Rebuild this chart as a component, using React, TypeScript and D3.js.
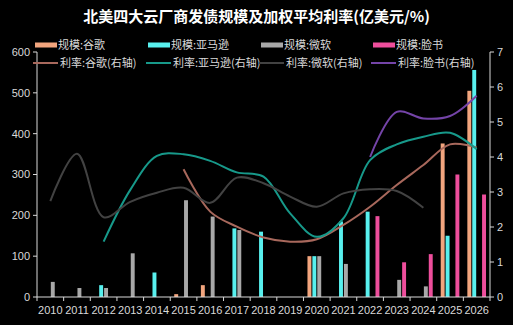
import { useEffect, useRef } from 'react';
import * as d3 from 'd3';

const years = ['2010', '2011', '2012', '2013', '2014', '2015', '2016', '2017', '2018',
  '2019', '2020', '2021', '2022', '2023', '2024', '2025', '2026'];

// 规模 (亿美元), null = no issue that year
const googleSize = [null, null, null, null, null, 7, 29, null, null, null, 100, null, null, null, null, 376, 505];
const amazonSize = [null, null, 29, null, 60, null, null, 168, 160, null, 100, 185, 209, null, null, 150, 556];
const msftSize = [37, 22, 22, 107, null, 237, 197, 164, null, null, 100, 81, null, 42, 26, null, null];
const fbSize = [null, null, null, null, null, null, null, null, null, null, null, null, 198, 85, 105, 300, 251];

// 利率 (%), right axis
const googleRate = [null, null, null, null, null, 3.65, 2.44, 2.01, 1.7, 1.58, 1.65, 2.06, 2.58, 3.2, 3.77, 4.36, 4.27];
const amazonRate = [null, null, 1.58, 3.06, 4.03, 4.08, 3.89, 3.56, 3.44, 2.39, 1.72, 2.25, 3.91, 4.36, 4.58, 4.69, 4.22];
const msftRate = [2.74, 4.09, 2.28, 2.72, 2.98, 3.12, 2.69, 3.41, 3.25, 2.87, 2.58, 2.96, 3.08, 3.03, 2.55, null, null];
const fbRate = [null, null, null, null, null, null, null, null, null, null, null, null, 4.0, 5.29, 5.1, 5.17, 5.75];

const leftTicks = [0, 100, 200, 300, 400, 500, 600];
const rightTicks = [0, 1, 2, 3, 4, 5, 6, 7];

const barSeries = [
  { name: '规模:谷歌', values: googleSize, color: '#F2A57E' },
  { name: '规模:亚马逊', values: amazonSize, color: '#58F0EE' },
  { name: '规模:微软', values: msftSize, color: '#A8A8A8' },
  { name: '规模:脸书', values: fbSize, color: '#EE4E9C' },
];
const lineSeries = [
  { name: '利率:谷歌(右轴)', values: googleRate, color: '#A8685C' },
  { name: '利率:亚马逊(右轴)', values: amazonRate, color: '#17998A' },
  { name: '利率:微软(右轴)', values: msftRate, color: '#424242' },
  { name: '利率:脸书(右轴)', values: fbRate, color: '#7444A8' },
];

const W = 513;
const H = 325;
const axisColor = '#D9D9D9';

const App = () => {
  const svgRef = useRef<SVGSVGElement>(null);

  useEffect(() => {
    const svg = d3.select(svgRef.current);
    svg.selectAll('*').remove();

    const left = 37;
    const right = 490;
    const top = 52;
    const bottom = 297;

    svg.append('rect').attr('width', W).attr('height', H).attr('fill', '#000');

    const x = d3.scaleBand<string>().domain(years).range([left, right])
      .paddingInner(0.3).paddingOuter(0.15);
    const inner = d3.scaleBand<string>().domain(barSeries.map((s) => s.name))
      .range([0, x.bandwidth()]).paddingInner(0.2);
    const yL = d3.scaleLinear().domain([0, 600]).range([bottom, top]);
    const yR = d3.scaleLinear().domain([0, 7]).range([bottom, top]);

    // title
    svg.append('text')
      .attr('x', W / 2).attr('y', 22)
      .attr('text-anchor', 'middle')
      .attr('fill', '#fff')
      .style('font-family', '"Noto Sans CJK SC", sans-serif')
      .style('font-size', '15px')
      .style('font-weight', 'bold')
      .text('北美四大云厂商发债规模及加权平均利率(亿美元/%)');

    // bars
    barSeries.forEach((s) => {
      svg.append('g')
        .selectAll('rect')
        .data(years.map((yr, i) => ({ yr, v: s.values[i] })).filter((d) => d.v != null))
        .enter()
        .append('rect')
        .attr('x', (d) => (x(d.yr) as number) + (inner(s.name) as number))
        .attr('width', inner.bandwidth())
        .attr('y', (d) => yL(d.v as number))
        .attr('height', (d) => bottom - yL(d.v as number))
        .attr('fill', s.color);
    });

    // lines
    const cx = (yr: string) => (x(yr) as number) + x.bandwidth() / 2;
    lineSeries.forEach((s) => {
      const pts = years.map((yr, i) => ({ yr, v: s.values[i] })).filter((d) => d.v != null);
      const line = d3.line<{ yr: string; v: number | null }>()
        .x((d) => cx(d.yr))
        .y((d) => yR(d.v as number))
        .curve(d3.curveCatmullRom.alpha(0.5));
      svg.append('path')
        .attr('d', line(pts))
        .attr('fill', 'none')
        .attr('stroke', s.color)
        .attr('stroke-width', 2);
    });

    // axes
    const tickFont = (sel: any) => sel
      .style('font-family', '"Liberation Sans", Arial, sans-serif')
      .style('font-size', '11px')
      .attr('fill', axisColor);

    const ax = svg.append('g');
    ax.append('line').attr('x1', left).attr('x2', left).attr('y1', top).attr('y2', bottom)
      .attr('stroke', axisColor);
    ax.append('line').attr('x1', right).attr('x2', right).attr('y1', top).attr('y2', bottom)
      .attr('stroke', axisColor);
    ax.append('line').attr('x1', left).attr('x2', right).attr('y1', bottom).attr('y2', bottom)
      .attr('stroke', axisColor);

    leftTicks.forEach((t) => {
      ax.append('line').attr('x1', left - 4).attr('x2', left).attr('y1', yL(t)).attr('y2', yL(t))
        .attr('stroke', axisColor);
      ax.append('text').attr('x', 30).attr('y', yL(t)).attr('dy', '0.35em')
        .attr('text-anchor', 'end').call(tickFont).text(t);
    });
    rightTicks.forEach((t) => {
      ax.append('line').attr('x1', right).attr('x2', right + 4).attr('y1', yR(t)).attr('y2', yR(t))
        .attr('stroke', axisColor);
      ax.append('text').attr('x', 497).attr('y', yR(t)).attr('dy', '0.35em')
        .call(tickFont).text(t);
    });
    const step = x.step();
    years.forEach((yr, i) => {
      const bx = left + step * i;
      ax.append('line').attr('x1', bx).attr('x2', bx).attr('y1', bottom).attr('y2', bottom + 4)
        .attr('stroke', axisColor);
      ax.append('text').attr('x', cx(yr)).attr('y', 314)
        .attr('text-anchor', 'middle').call(tickFont).text(yr);
    });
    ax.append('line').attr('x1', right).attr('x2', right).attr('y1', bottom).attr('y2', bottom + 4)
      .attr('stroke', axisColor);

    // legend
    const legX = [35, 148, 261, 373];
    const legend = svg.append('g')
      .style('font-family', '"Noto Sans CJK SC", sans-serif')
      .style('font-size', '11px');
    barSeries.forEach((s, i) => {
      legend.append('rect').attr('x', legX[i]).attr('y', 42.5).attr('width', 22).attr('height', 5)
        .attr('fill', s.color);
      legend.append('text').attr('x', legX[i] + 23).attr('y', 45).attr('dy', '0.35em')
        .attr('fill', axisColor).text(s.name);
    });
    lineSeries.forEach((s, i) => {
      legend.append('line').attr('x1', legX[i] - 2).attr('x2', legX[i] + 23)
        .attr('y1', 63).attr('y2', 63)
        .attr('stroke', s.color).attr('stroke-width', 2);
      legend.append('text').attr('x', legX[i] + 25).attr('y', 63).attr('dy', '0.35em')
        .attr('fill', axisColor).text(s.name);
    });
  }, []);

  return (
    <svg
      ref={svgRef}
      width={W}
      height={H}
      style={{ position: 'absolute', left: 0, top: 0, display: 'block' }}
    />
  );
};

export default App;
